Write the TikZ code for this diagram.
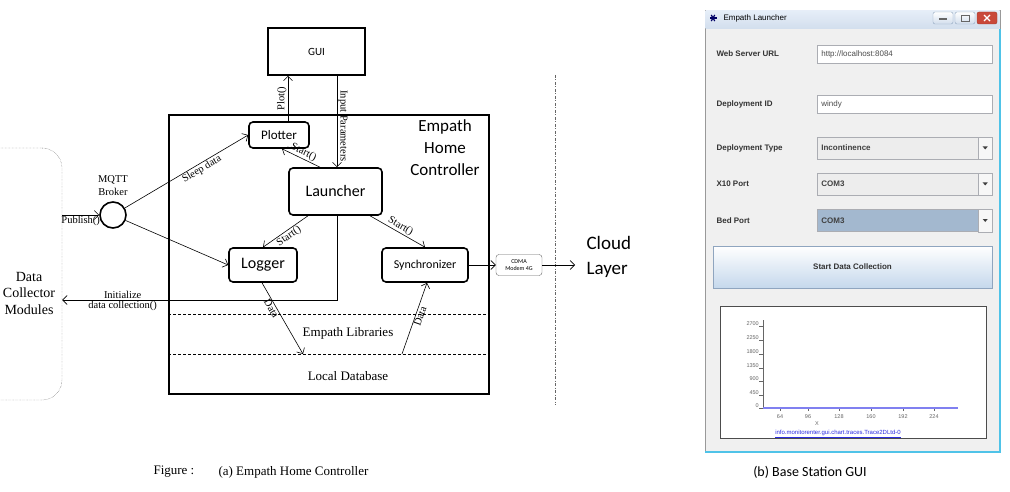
\documentclass[tikz,border=0pt]{standalone}
\usepackage{fontspec}
\setmainfont{Liberation Serif}
\newfontfamily\calfont{Carlito}
\newfontfamily\winfont{Liberation Sans}
\usetikzlibrary{arrows.meta,calc}

\definecolor{winbg}{HTML}{F0F0F0}
\definecolor{winedge}{HTML}{4FC3E8}
\definecolor{titletop}{HTML}{E6EEF8}
\definecolor{titlebot}{HTML}{D2DEED}
\definecolor{fieldedge}{HTML}{ABADB3}
\definecolor{bedfill}{HTML}{A3B8CF}
\definecolor{btnedge}{HTML}{8FA5BF}
\definecolor{btnbot}{HTML}{C5D8EC}
\definecolor{linkblue}{HTML}{2B2BE0}
\definecolor{traceblue}{HTML}{8080F0}
\definecolor{closered}{HTML}{C9483A}

\tikzset{
  comp/.style={draw, line width=1.6pt, rounded corners=4pt, inner sep=0pt},
  arr/.style={-{Straight Barb[length=4.5pt,width=9pt]}, line width=0.6pt},
  lbl/.style={font=\fontsize{10.5}{11}\selectfont, inner sep=1pt},
  wlabel/.style={anchor=west, font=\winfont\bfseries\fontsize{8}{9}\selectfont, text=black!80},
  field/.style={draw=fieldedge, fill=white, inner sep=0pt, minimum width=175pt, minimum height=18pt},
  combo/.style={draw=fieldedge, fill=black!7, inner sep=0pt, minimum width=175pt, minimum height=22pt},
  ftext/.style={anchor=west, font=\winfont\fontsize{8}{9}\selectfont, text=black!70},
  ctext/.style={anchor=west, font=\winfont\bfseries\fontsize{8}{9}\selectfont, text=black!75},
  ticklbl/.style={font=\winfont\fontsize{5.5}{6}\selectfont, text=black!60, inner sep=0pt}
}

\begin{document}
\begin{tikzpicture}[x=1pt,y=-1pt]
	%%%%% START %%%%%
	\useasboundingbox (0,0) rectangle (1010,492);

	% controller
	\node[draw, line width=1.8pt, minimum width=320pt, minimum height=279pt, inner sep=0pt] (ehc) at (329,254.5) {};
	\node[font=\calfont\fontsize{17}{22}\selectfont, align=center] (ehctitle) at (445,148) {Empath\\Home\\Controller};
	\draw[line width=0.6pt, dash pattern=on 3pt off 2pt] (ehc.west |- 0,314) -- (ehc.east |- 0,314);
	\draw[line width=0.6pt, dash pattern=on 3pt off 2pt] (ehc.west |- 0,354) -- (ehc.east |- 0,354);
	\node[font=\fontsize{13}{15}\selectfont] (libs) at (348,333) {Empath Libraries};
	\node[font=\fontsize{13}{15}\selectfont] (db) at (348,376) {Local Database};

	\node[draw, line width=1.6pt, minimum width=97pt, minimum height=47pt, font=\calfont\fontsize{11}{13}\selectfont] (gui) at (316.5,51.5) {GUI};
	\node[comp, minimum width=60pt, minimum height=26pt, font=\calfont\fontsize{13}{15}\selectfont] (plotter) at (279,135) {Plotter};
	\node[comp, minimum width=93pt, minimum height=47pt, font=\calfont\fontsize{16}{18}\selectfont] (launcher) at (335.5,191.5) {Launcher};
	\node[comp, minimum width=68pt, minimum height=34pt, font=\calfont\fontsize{16}{18}\selectfont] (logger) at (263,265) {Logger};
	\node[comp, minimum width=86pt, minimum height=34pt, font=\calfont\fontsize{12}{14}\selectfont] (sync) at (425,265) {Synchronizer};

	% outside
	\node[draw=black!70, densely dotted, rounded corners=20pt, minimum width=122pt, minimum height=252pt] (dcm) at (1,274) {};
	\node[font=\fontsize{14}{16.5}\selectfont, align=center] (dcmtext) at (29,293) {Data\\Collector\\Modules};
	\node[draw, circle, line width=1.6pt, minimum size=26pt, inner sep=0pt] (broker) at (113,215) {};
	\node[font=\fontsize{10.5}{13}\selectfont, align=center] (brokerlbl) at (113,186) {MQTT\\Broker};
	\node[draw=black!60, rounded corners=3pt, minimum width=46pt, minimum height=21pt, inner sep=0pt, font=\calfont\fontsize{6}{7}\selectfont, align=center] (modem) at (519,265) {CDMA\\Modem 4G};
	\node[anchor=west, font=\calfont\fontsize{19}{25}\selectfont, align=left] (cloud) at (583,257) {Cloud\\Layer};
	\draw[black!60, dash pattern=on 3pt off 1.5pt on 1pt off 1.5pt] (555,75) -- (555,405);

	% connectors
	\coordinate (plotup) at ([xshift=9pt]plotter.north);
	\coordinate (inpar) at ([xshift=1.5pt]launcher.north);
	\coordinate (ldown) at ([xshift=1.5pt]launcher.south);
	\coordinate (libin) at (303,354);
	\coordinate (libout) at (402,354);
	\coordinate (cloudin) at (575,265);

	\draw[arr] (plotup) -- (plotup |- gui.south) node[midway, rotate=90, anchor=south, lbl] {Plot()};
	\draw[arr] (inpar |- gui.south) -- (inpar) node[pos=0.55, rotate=-90, anchor=south, lbl] {Input Parameters};
	\draw[arr] ([xshift=-15.5pt]launcher.north) -- ([xshift=3pt]plotter.south) node[midway, sloped, above, lbl] {Start()};
	\draw[arr] ([xshift=-27.5pt]launcher.south) -- (logger.north) node[midway, sloped, below, lbl] {Start()};
	\draw[arr] ([xshift=34.5pt]launcher.south) -- (sync.north) node[midway, sloped, above, lbl] {Start()};
	\draw[arr] (ldown) |- (dcm.east |- 0,300) node[pos=0.89, above, lbl] {Initialize} node[pos=0.89, below, lbl] {data collection()};
	\draw[arr] ([xshift=-1pt]logger.south) -- (libin) node[pos=0.33, sloped, below, lbl] {Data};
	\draw[arr] (libout) -- ([xshift=2pt]sync.south) node[pos=0.55, sloped, below, lbl] {Data};
	\draw[arr] (dcm.east |- broker) -- (broker) node[midway, below, lbl] {Publish()};
	\draw[arr] (broker) -- (plotter.west) node[pos=0.6, sloped, below, lbl] {Sleep data};
	\draw[arr] (broker) -- (logger.west);
	\draw[arr] (sync) -- (modem);
	\draw[arr] (modem) -- (cloudin);

	% base station window
	\node[draw=black!40, fill=winbg, minimum width=295pt, minimum height=442pt, inner sep=0pt] (win) at (852.5,231) {};
	\shade[top color=titletop, bottom color=titlebot] (705.5,10.5) rectangle (999.5,29);
	\draw[winedge, line width=1.2pt] (1000,29) -- (1000,452) -- (705,452);
	\foreach \a in {0,60,120}
		\draw[line width=1.2pt, blue!40!black] ($(713,18)+(\a:3.5)$) -- ($(713,18)+(\a+180:3.5)$);
	\node[anchor=west, font=\winfont\fontsize{8}{9}\selectfont] (wintitle) at (720,18) {Empath Launcher};
	\draw[btnedge, top color=white, bottom color=titlebot, rounded corners=2pt] (933,12) rectangle (953,24);
	\draw[black!60, line width=1.5pt] (939,19) -- (947,19);
	\draw[btnedge, top color=white, bottom color=titlebot, rounded corners=2pt] (955,12) rectangle (975,24);
	\draw[black!60, line width=0.8pt] (961,15) rectangle (969,21);
	\draw[closered!80!black, fill=closered, rounded corners=2pt] (977,12) rectangle (997,24);
	\draw[white, line width=1.3pt] (984,15) -- (990,21) (984,21) -- (990,15);

	\node[wlabel] (urllbl) at (713,54) {Web Server URL};
	\node[field] (urlbox) at (904.5,54) {};
	\node[ftext] (urltxt) at ([xshift=1pt]urlbox.west) {http://localhost:8084};
	\node[wlabel] (idlbl) at (713,104) {Deployment ID};
	\node[field] (idbox) at (904.5,104) {};
	\node[ftext] (idtxt) at ([xshift=1pt]idbox.west) {windy};
	\node[wlabel] (typelbl) at (713,148) {Deployment Type};
	\node[combo] (typebox) at (904.5,148) {};
	\node[ctext] (typetxt) at ([xshift=1pt]typebox.west) {Incontinence};
	\node[wlabel] (x10lbl) at (713,184) {X10 Port};
	\node[combo] (x10box) at (904.5,184) {};
	\node[ctext] (x10txt) at ([xshift=1pt]x10box.west) {COM3};
	\node[wlabel] (bedlbl) at (713,220.5) {Bed Port};
	\node[combo, fill=bedfill] (bedbox) at (904.5,220.5) {};
	\node[ctext] (bedtxt) at ([xshift=1pt]bedbox.west) {COM3};
	\foreach \b in {typebox,x10box,bedbox}{
		\draw[fieldedge, fill=black!3] ([xshift=-14pt]\b.north east) rectangle (\b.south east);
		\fill[black!75] ($(\b.east)+(-9.5,-1.5)$) -- ++(5,0) -- ++(-2.5,3) -- cycle;
	}
	\node[draw=btnedge, top color=white, bottom color=btnbot, minimum width=279pt, minimum height=42pt, inner sep=0pt, font=\winfont\bfseries\fontsize{8}{9}\selectfont, text=black!80] (startbtn) at (852.5,267) {Start Data Collection};

	% chart
	\node[draw=black!70, line width=1pt, fill=white, minimum width=266pt, minimum height=132pt, inner sep=0pt] (chart) at (853,372) {};
	\draw[black!60] (763,320) -- (763,408);
	\foreach \v/\y in {2700/324,2250/338,1800/352,1350/366,900/379,450/393,0/406}{
		\node[ticklbl, anchor=east] (ylab\v) at (759,\y) {\v};
		\draw[black!60] (759,\y+2.5) -- (763,\y+2.5);
	}
	\draw[traceblue, line width=1.5pt] (763,408) -- (958,408);
	\foreach \t/\x in {64/780,96/808,128/839,160/871,192/903,224/934}{
		\draw[black!60] (\x,409) -- (\x,411);
		\node[ticklbl] (xlab\t) at (\x,417) {\t};
	}
	\node[ticklbl] (xname) at (817,424) {X};
	\node[font=\winfont\fontsize{6}{7}\selectfont, text=linkblue, inner sep=0pt] (tracelink) at (838,434) {\underline{info.monitorenter.gui.chart.traces.Trace2DLtd-0}};

	% captions
	\node[anchor=west, font=\fontsize{13}{15}\selectfont] (figlbl) at (150,472) {Figure :};
	\node[anchor=west, font=\fontsize{13}{15}\selectfont] (capa) at (215,472) {(a) Empath Home Controller};
	\node[font=\calfont\fontsize{14}{16}\selectfont] (capb) at (810,472) {(b) Base Station GUI};
	%%%%% END %%%%%
\end{tikzpicture}
\end{document}
